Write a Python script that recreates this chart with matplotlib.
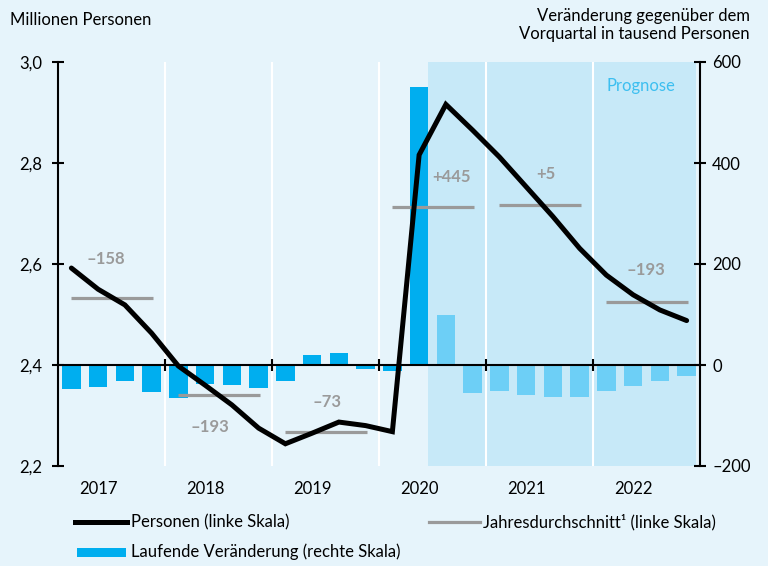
import matplotlib.pyplot as plt
import numpy as np
from matplotlib.lines import Line2D
from matplotlib.patches import Rectangle

plt.rcParams['font.family'] = ['Lato', 'DejaVu Sans']

# Quartalswerte 2017 Q1 bis 2022 Q4
jahre = [2017, 2018, 2019, 2020, 2021, 2022]
personen = [2.592, 2.550, 2.519, 2.463,
            2.398, 2.360, 2.321, 2.275,
            2.244, 2.265, 2.287, 2.280,
            2.268, 2.816, 2.916, 2.865,
            2.812, 2.753, 2.694, 2.631,
            2.578, 2.539, 2.509, 2.488]
veraenderung = [-47, -43, -31, -54,
                -66, -37, -40, -46,
                -32, 20, 23, -8,
                -11, 550, 100, -55,
                -51, -59, -63, -63,
                -51, -41, -31, -21]
# Veränderung des Jahresdurchschnitts in tausend Personen
jahres_aenderung = [-158, -193, -73, 445, 5, -193]
durchschnitt_2017 = 2.533
n_ist = 14  # Quartale mit Ist-Werten, danach Schätzung/Prognose

links_ticks = [2.2, 2.4, 2.6, 2.8, 3.0]
links_labels = ['2,2', '2,4', '2,6', '2,8', '3,0']
rechts_ticks = [-200, 0, 200, 400, 600]
rechts_labels = ['–200', '0', '200', '400', '600']

bg = '#e6f4fb'
shade = '#c7e9f8'
blau = '#00aeef'
hellblau = '#6dcff6'
grau = '#9a9a9a'
fs = 12

durchschnitt = durchschnitt_2017 + np.concatenate([[0], np.cumsum(jahres_aenderung[1:])]) / 1000
x = 2017 + (np.arange(len(personen)) + 0.5) / 4
bw = 0.171

fig = plt.figure(figsize=(7.68, 5.66), dpi=100, facecolor=bg)
ax = fig.add_axes([58 / 768, 1 - 466 / 566, 642 / 768, 404 / 566])
ax.set_facecolor(bg)
ax_l = ax.twinx()

ax.set_xlim(2017, 2023)
ax.set_ylim(-200, 600)
ax_l.set_ylim(2.2, 3.0)

# Hintergrund: Schätz-/Prognosebereich und Jahrestrenner
ax.axvspan(x[n_ist - 1] + bw / 2, 2022.965, color=shade, lw=0, zorder=0)
for j in jahre[1:]:
    ax.axvline(j, color='white', lw=1.5, zorder=1)

farben = [blau] * n_ist + [hellblau] * (len(veraenderung) - n_ist)
ax.bar(x, veraenderung, width=bw, color=farben, zorder=2)
ax.axhline(0, color='black', lw=1.5, zorder=3)
ax.plot(jahre[1:], [0] * (len(jahre) - 1), ls='none', marker='|', ms=8.5,
        mew=1.5, color='black', zorder=3)

ax.text(2022.45, 552, 'Prognose', color='#3dbff0', fontsize=fs,
        ha='center', va='center', zorder=4)

# Jahresdurchschnitte mit Beschriftung
label_dx = [-0.05, -0.08, 0.01, 0.18, 0.06, -0.01]
label_dy = [28, -23, 22, 22, 22, 23]
for k, j in enumerate(jahre):
    ax_l.plot([j + 0.12, j + 0.885], [durchschnitt[k]] * 2, color=grau,
              lw=2.3, solid_capstyle='butt', zorder=3)
    w = jahres_aenderung[k]
    txt = f'+{w}' if w > 0 else f'–{abs(w)}'
    ax_l.annotate(txt, (j + 0.5 + label_dx[k], durchschnitt[k]),
                  xytext=(0, label_dy[k]), textcoords='offset points',
                  ha='center', va='center', color=grau, fontsize=12,
                  fontweight='bold')

ax_l.plot(x, personen, color='black', lw=3.6, solid_joinstyle='miter',
          solid_capstyle='round', zorder=5)

# Achsen
for s in ['top', 'bottom']:
    ax.spines[s].set_visible(False)
for s in ['left', 'right']:
    ax.spines[s].set_linewidth(1.5)
for s in ax_l.spines.values():
    s.set_visible(False)

ax.yaxis.tick_right()
ax.set_yticks(rechts_ticks)
ax.set_yticklabels(rechts_labels)
ax.tick_params(axis='y', direction='inout', length=8.6, width=1.5, pad=4.5,
               labelsize=fs, colors='black')
ax_l.yaxis.tick_left()
ax_l.set_yticks(links_ticks)
ax_l.set_yticklabels(links_labels)
ax_l.tick_params(axis='y', direction='inout', length=8.6, width=1.5, pad=7,
                 labelsize=fs)

ax.set_xticks([j + 0.375 for j in jahre])
ax.set_xticklabels([str(j) for j in jahre])
ax.tick_params(axis='x', length=0, pad=11, labelsize=fs)

fig.text(10 / 768, 1 - 20 / 566, 'Millionen Personen', fontsize=fs,
         ha='left', va='center')
fig.text(750 / 768, 1 - 25 / 566,
         'Veränderung gegenüber dem\nVorquartal in tausend Personen',
         fontsize=fs, ha='right', va='center', multialignment='right',
         linespacing=1.2)

# Legende
y1 = 1 - 522 / 566
y2 = 1 - 552 / 566
fig.add_artist(Line2D([75 / 768, 127 / 768], [y1, y1], color='black', lw=3.6))
fig.text(131 / 768, y1, 'Personen (linke Skala)', fontsize=fs, va='center')
fig.add_artist(Line2D([429 / 768, 480 / 768], [y1, y1], color=grau, lw=2.3))
fig.text(483 / 768, y1, 'Jahresdurchschnitt¹ (linke Skala)', fontsize=fs,
         va='center')
fig.add_artist(Rectangle((77 / 768, 1 - 557 / 566), 49 / 768, 9 / 566,
                         color=blau, lw=0))
fig.text(131 / 768, y2, 'Laufende Veränderung (rechte Skala)', fontsize=fs,
         va='center')

fig.savefig('out.png', dpi=100, facecolor=bg)
